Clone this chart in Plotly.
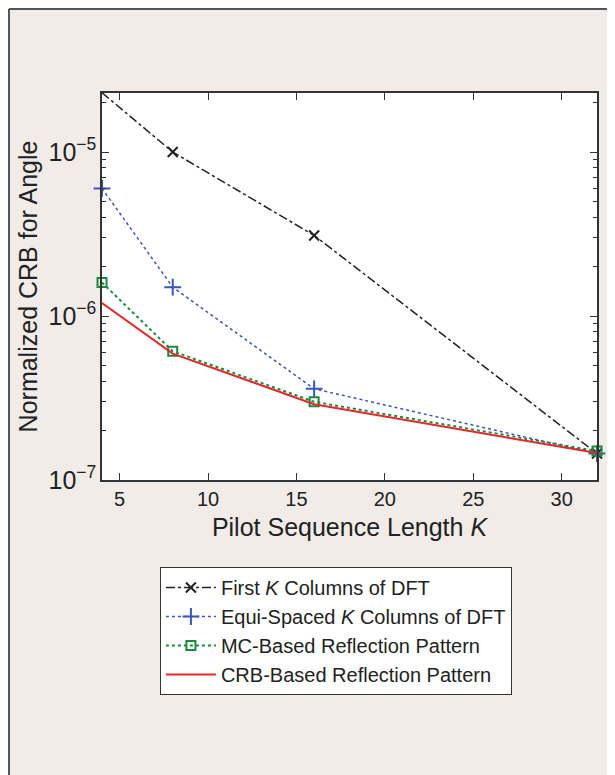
import plotly.graph_objects as go

# Pilot sequence length K
k_values = [4, 8, 16, 32]

# Normalized CRB for angle
crb_first_dft = [2.3e-5, 1.0e-5, 3.1e-6, 1.45e-7]
crb_equi_dft = [6.0e-6, 1.5e-6, 3.6e-7, 1.45e-7]
crb_mc_based = [1.6e-6, 6.1e-7, 3.0e-7, 1.5e-7]
crb_crb_based = [1.2e-6, 5.9e-7, 2.9e-7, 1.46e-7]

x_ticks = [5, 10, 15, 20, 25, 30]

FONT = "Liberation Sans, Arial, Helvetica, sans-serif"
BG = "#f1ece8"
AXIS = "#333333"

fig = go.Figure()

fig.add_trace(go.Scatter(
    x=k_values, y=crb_first_dft, mode="lines+markers",
    name="First <i>K</i> Columns of DFT",
    line=dict(color="#222222", width=1.5, dash="dashdot"),
    marker=dict(symbol="x-thin", size=10, line=dict(color="#222222", width=2)),
    cliponaxis=False,
))
fig.add_trace(go.Scatter(
    x=k_values, y=crb_equi_dft, mode="lines+markers",
    name="Equi-Spaced <i>K</i> Columns of DFT",
    line=dict(color="#3a56b8", width=1.5, dash="dot"),
    marker=dict(symbol="cross-thin", size=12, line=dict(color="#3a56b8", width=2)),
    cliponaxis=False,
))
fig.add_trace(go.Scatter(
    x=k_values, y=crb_mc_based, mode="lines+markers",
    name="MC-Based Reflection Pattern",
    line=dict(color="#1a8a3c", width=2, dash="dot"),
    marker=dict(symbol="square-open", size=9, color="#1a8a3c", line=dict(width=2)),
    cliponaxis=False,
))
fig.add_trace(go.Scatter(
    x=k_values, y=crb_crb_based, mode="lines",
    name="CRB-Based Reflection Pattern",
    line=dict(color="#e8262a", width=2),
    cliponaxis=False,
))

# outer frame: only its left and top edges fall inside the picture
fig.add_shape(type="line", xref="paper", yref="paper", x0=-0.1879, x1=1.1, y0=1.2171, y1=1.2171,
              line=dict(color="#555555", width=2), layer="above")
fig.add_shape(type="line", xref="paper", yref="paper", x0=-0.1879, x1=-0.1879, y0=-0.9, y1=1.2171,
              line=dict(color="#555555", width=2), layer="above")

fig.update_layout(
    width=615, height=775,
    margin=dict(l=94, r=26, t=85, b=303),
    paper_bgcolor=BG,
    plot_bgcolor="white",
    font=dict(family=FONT, size=21, color="#222222"),
    showlegend=True,
    legend=dict(
        x=0.117, y=-0.2248, xanchor="left", yanchor="top",
        bgcolor="white", bordercolor=AXIS, borderwidth=1,
        font=dict(size=20), tracegroupgap=0, itemwidth=50,
    ),
)

fig.update_xaxes(
    range=[4, 32], tickvals=x_ticks,
    tickfont=dict(size=20),
    title=dict(text="Pilot Sequence Length <i>K</i>", standoff=10),
    showline=True, linecolor=AXIS, linewidth=1.5, mirror="allticks",
    ticks="inside", ticklen=7, tickcolor=AXIS,
    showgrid=False, zeroline=False,
)
fig.update_yaxes(
    type="log", range=[-7, -4.64], dtick=1, exponentformat="power",
    tickfont=dict(size=20),
    title=dict(text="Normalized CRB for Angle", standoff=4),
    showline=True, linecolor=AXIS, linewidth=1.5, mirror="allticks",
    ticks="inside", ticklen=7, tickcolor=AXIS,
    minor=dict(ticks="inside", ticklen=4, tickcolor=AXIS, showgrid=False),
    showgrid=False, zeroline=False,
)

fig.write_html("out.html")
